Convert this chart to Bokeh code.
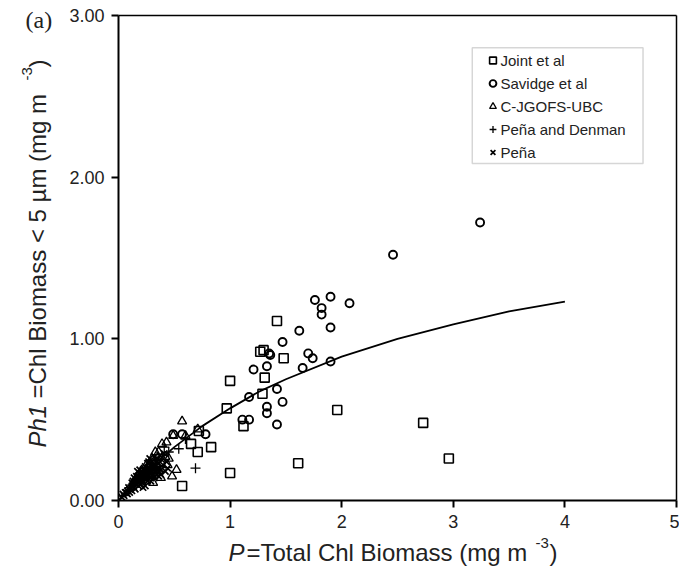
import math
from bokeh.plotting import figure
from bokeh.models import (Range1d, FixedTicker, NumeralTickFormatter, Label,
                          Legend, LegendItem, BoxAnnotation, LinearAxis)
from bokeh.embed import file_html
from bokeh.resources import INLINE

# ---------------- data ----------------
joint_x = [1.42, 1.48, 1.30, 1.27, 1.31, 1.29, 1.96, 1.00, 1.12, 0.97, 0.83, 1.61,
           1.00, 2.73, 2.96, 0.72, 0.71, 0.65, 0.57, 0.30, 0.22]
joint_y = [1.11, 0.88, 0.93, 0.92, 0.76, 0.66, 0.56, 0.74, 0.46, 0.57, 0.33, 0.23,
           0.17, 0.48, 0.26, 0.43, 0.30, 0.35, 0.09, 0.20, 0.15]

savidge_x = [3.24, 2.46, 1.76, 1.90, 2.07, 1.82, 1.82, 1.62, 1.90, 1.47, 1.36, 1.70,
             1.74, 1.90, 1.65, 1.33, 1.42, 1.47, 1.33, 1.33, 1.21, 1.42, 1.11, 1.17,
             1.17, 1.35, 0.78, 0.49, 0.57]
savidge_y = [1.72, 1.52, 1.24, 1.26, 1.22, 1.19, 1.15, 1.05, 1.07, 0.98, 0.90, 0.91,
             0.88, 0.86, 0.82, 0.83, 0.69, 0.61, 0.58, 0.54, 0.81, 0.47, 0.50, 0.50,
             0.64, 0.91, 0.41, 0.41, 0.41]

jgofs_x = [0.57, 0.49, 0.39, 0.48, 0.38, 0.36, 0.30, 0.44, 0.25, 0.33, 0.42, 0.20,
           0.35, 0.28, 0.60, 0.43, 0.15, 0.31, 0.71, 0.45, 0.52]
jgofs_y = [0.49, 0.40, 0.35, 0.15, 0.14, 0.30, 0.26, 0.22, 0.22, 0.30, 0.27, 0.18,
           0.20, 0.16, 0.40, 0.36, 0.13, 0.11, 0.44, 0.26, 0.19]

denman_x = [0.54, 0.69, 0.10, 0.20, 0.28, 0.33, 0.16, 0.45, 0.60, 0.24, 0.37, 0.41]
denman_y = [0.32, 0.20, 0.08, 0.14, 0.22, 0.25, 0.12, 0.30, 0.38, 0.17, 0.21, 0.33]

pena_x = [0.03, 0.05, 0.06, 0.08, 0.08, 0.10, 0.10, 0.12, 0.12, 0.13, 0.14, 0.15,
          0.15, 0.16, 0.17, 0.18, 0.18, 0.19, 0.20, 0.20, 0.21, 0.22, 0.22, 0.23,
          0.24, 0.25, 0.25, 0.26, 0.27, 0.28, 0.29, 0.30, 0.31, 0.32, 0.33, 0.34,
          0.35, 0.36, 0.38, 0.40, 0.42, 0.14, 0.17, 0.24, 0.29, 0.04, 0.07, 0.11,
          0.19, 0.21, 0.23, 0.26, 0.27, 0.30, 0.32, 0.34, 0.36, 0.37, 0.39, 0.41,
          0.16, 0.13, 0.09, 0.28, 0.31, 0.35, 0.43, 0.44, 0.22, 0.26,
          0.18, 0.20, 0.23, 0.25, 0.27, 0.29, 0.31, 0.33, 0.34, 0.36, 0.38, 0.21,
          0.24, 0.28, 0.32, 0.12, 0.15, 0.17, 0.30, 0.26]
pena_y = [0.02, 0.03, 0.05, 0.04, 0.06, 0.07, 0.05, 0.09, 0.06, 0.10, 0.08, 0.12,
          0.07, 0.10, 0.13, 0.09, 0.15, 0.12, 0.17, 0.10, 0.14, 0.19, 0.12, 0.16,
          0.21, 0.13, 0.18, 0.23, 0.15, 0.20, 0.17, 0.24, 0.19, 0.14, 0.22, 0.18,
          0.26, 0.20, 0.16, 0.22, 0.18, 0.14, 0.18, 0.09, 0.12, 0.04, 0.05, 0.08,
          0.19, 0.11, 0.20, 0.16, 0.24, 0.15, 0.27, 0.24, 0.15, 0.28, 0.25, 0.29,
          0.15, 0.12, 0.08, 0.26, 0.22, 0.19, 0.24, 0.20, 0.08, 0.12,
          0.12, 0.13, 0.14, 0.15, 0.18, 0.14, 0.16, 0.18, 0.16, 0.23, 0.19, 0.16,
          0.19, 0.18, 0.20, 0.11, 0.10, 0.11, 0.21, 0.20]

fit_x = [0.0, 0.25, 0.5, 0.75, 1.0, 1.25, 1.5, 2.0, 2.5, 3.0, 3.5, 4.0]
fit_y = [0.0, 0.18, 0.33, 0.46, 0.57, 0.67, 0.75, 0.89, 1.00, 1.09, 1.17, 1.23]

x_ticks = [0, 1, 2, 3, 4, 5]
y_ticks = [0, 1, 2, 3]
series_labels = ["Joint et al", "Savidge et al", "C-JGOFS-UBC", "Peña and Denman", "Peña"]

# ---------------- geometry ----------------
W, H = 679, 567
# data box in canvas pixels: x 0..5 -> 118..676, y 0..3 -> 500..15
PX0, PX1, PY0, PY1 = 118.0, 676.0, 500.0, 15.0
kx = (PX1 - PX0) / 5.0
ky = (PY0 - PY1) / 3.0
x_range = Range1d(-PX0 / kx, 5 + (W - PX1) / kx)
y_range = Range1d(-(H - PY0) / ky, 3 + PY1 / ky)

p = figure(width=W, height=H, output_backend="svg", toolbar_location=None,
           x_range=x_range, y_range=y_range,
           min_border=0, min_border_left=0, min_border_right=0,
           min_border_top=0, min_border_bottom=0)
p.xgrid.visible = False
p.ygrid.visible = False
p.outline_line_color = None
p.background_fill_color = "white"
p.border_fill_color = "white"

TXT = "#222222"


def style_axis(ax):
    ax.axis_line_width = 2
    ax.axis_line_color = "black"
    ax.major_tick_line_width = 2
    ax.major_tick_line_color = "black"
    ax.major_tick_out = 7
    ax.major_tick_in = 0
    ax.minor_tick_out = 0
    ax.minor_tick_in = 0
    ax.major_label_text_font = "Liberation Sans"
    ax.major_label_text_font_size = "18px"
    ax.major_label_text_color = TXT
    ax.major_label_standoff = 7


xa = p.xaxis[0]
ya = p.yaxis[0]
style_axis(xa)
style_axis(ya)
xa.fixed_location = 0
ya.fixed_location = 0
xa.bounds = (0, 5)
ya.bounds = (0, 3)
xa.ticker = FixedTicker(ticks=x_ticks)
ya.ticker = FixedTicker(ticks=y_ticks)
ya.formatter = NumeralTickFormatter(format="0.00")

# frame lines on top and right (axes without ticks)
top_ax = LinearAxis(fixed_location=3, bounds=(0, 5), ticker=FixedTicker(ticks=[]),
                    axis_line_width=1.5, major_tick_out=0, minor_tick_out=0,
                    major_label_text_alpha=0)
right_ax = LinearAxis(fixed_location=5, bounds=(0, 3), ticker=FixedTicker(ticks=[]),
                      axis_line_width=1.5, major_tick_out=0, minor_tick_out=0,
                      major_label_text_alpha=0)
p.add_layout(top_ax, "above")
p.add_layout(right_ax, "right")

# ---------------- data marks ----------------
r_pena = p.scatter(pena_x, pena_y, marker="x", size=9, line_color="black", line_width=1.7)
r_den = p.scatter(denman_x, denman_y, marker="cross", size=10, line_color="black", line_width=1.3)
r_jg = p.scatter(jgofs_x, jgofs_y, marker="triangle", size=9, line_color="black",
                 fill_alpha=0, line_width=1.3)
r_jo = p.scatter(joint_x, joint_y, marker="square", size=9, line_color="black",
                 fill_alpha=0, line_width=1.6)
r_sa = p.scatter(savidge_x, savidge_y, marker="circle", size=8, line_color="black",
                 fill_alpha=0, line_width=1.9)
p.line(fit_x, fit_y, line_color="black", line_width=1.8)

# ---------------- legend ----------------
p.add_layout(BoxAnnotation(left=3.17, right=4.70, bottom=2.085, top=2.80,
                           fill_alpha=0, line_color="#777777", line_width=1.5))
legend = Legend(items=[LegendItem(label=series_labels[0], renderers=[r_jo]),
                       LegendItem(label=series_labels[1], renderers=[r_sa]),
                       LegendItem(label=series_labels[2], renderers=[r_jg]),
                       LegendItem(label=series_labels[3], renderers=[r_den]),
                       LegendItem(label=series_labels[4], renderers=[r_pena])],
                location=(483.5, H - 163), padding=0, spacing=1, margin=0,
                glyph_width=17, glyph_height=22, label_height=22, label_standoff=0,
                label_text_font="Liberation Sans", label_text_font_size="15px",
                label_text_color=TXT, border_line_alpha=0, background_fill_alpha=0)
p.add_layout(legend)

SHIFT = 8  # measured rendering offset of the alphabetic baseline


def add_text(text, cx, cy, size, style="normal", angle=0.0, font="Liberation Sans"):
    # cx, cy: canvas pixel position of the text anchor (baseline start)
    if angle == 0.0:
        cy = cy - SHIFT
    else:
        cx = cx - SHIFT
    p.add_layout(Label(x=cx, y=H - cy, x_units="screen", y_units="screen",
                       text=text, text_font=font, text_font_size=size,
                       text_font_style=style, angle=angle, text_color=TXT,
                       text_baseline="alphabetic", text_align="left"))


# x axis title
add_text("P", 228, 560, "24px", "italic")
add_text("=Total Chl Biomass (mg m", 246, 560, "24px")
add_text("-3", 535, 550, "15px")
add_text(")", 549, 560, "24px")

# y axis title (rotated)
a = math.pi / 2
add_text("Ph1", 45, 447, "24px", "italic", a)
add_text("=Chl Biomass < 5 µm (mg m", 45, 398, "24px", "normal", a)
add_text("-3", 34, 80, "15px", "normal", a)
add_text(")", 45, 67, "24px", "normal", a)

# panel tag
add_text("(a)", 25, 27, "24px", "normal", 0.0, "Liberation Serif")

open("out.html", "w").write(file_html(p, INLINE))
